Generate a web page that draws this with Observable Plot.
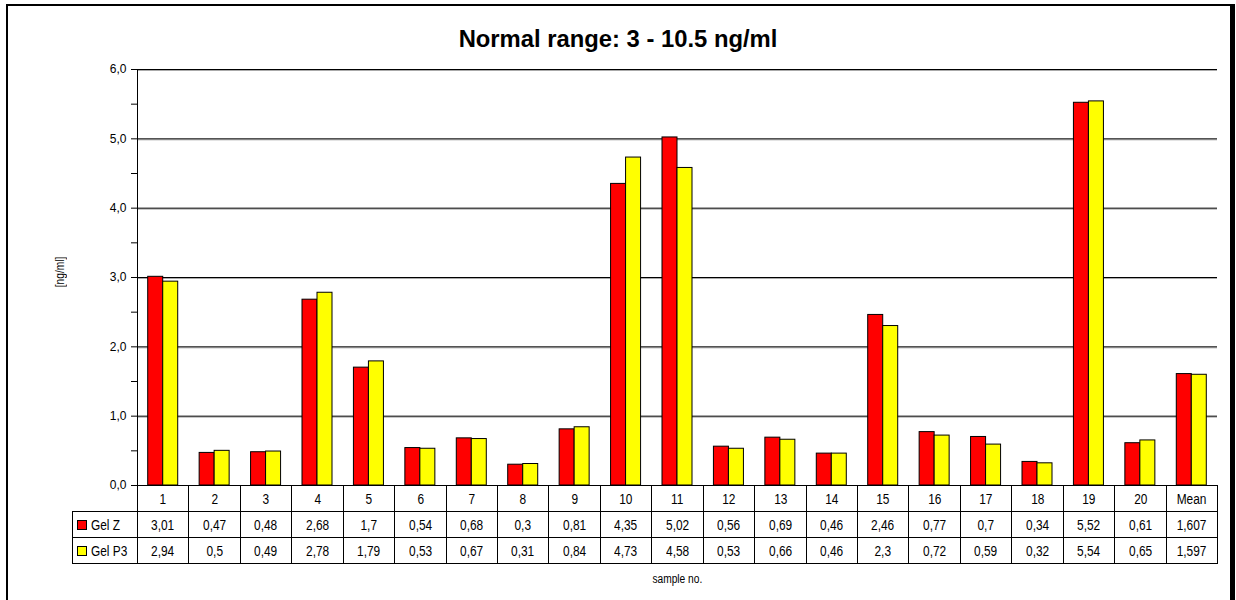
<!DOCTYPE html>
<html><head><meta charset="utf-8">
<script src="https://cdn.jsdelivr.net/npm/d3@7"></script>
<script src="https://cdn.jsdelivr.net/npm/@observablehq/plot@0.6"></script>
<style>
body{margin:0;background:#fff;}
#wrap{position:relative;width:1236px;height:600px;overflow:hidden;background:#fff;font-family:"Liberation Sans",Arial,sans-serif;color:#000;}
#border{position:absolute;left:6px;top:4px;width:1229px;height:640px;border:2px solid #000;border-right-width:5px;box-sizing:border-box;}
#title{position:absolute;left:6px;width:1224px;top:25px;text-align:center;font-family:"Liberation Sans",Arial,sans-serif;font-weight:bold;font-size:23.8px;}
#chart{position:absolute;left:0;top:0;}
.cell{position:absolute;box-sizing:border-box;border:1px solid #000;font-size:14px;display:flex;align-items:center;justify-content:center;white-space:nowrap;}
.cell .t{display:inline-block;transform:scaleX(0.85);}
.sw{display:inline-block;flex:none;width:10px;height:10px;box-sizing:border-box;border:1px solid #000;margin-right:4px;}
#xlabel{position:absolute;top:572px;left:137px;width:1080px;text-align:center;font-size:12px;}
#xlabel span, #ylabel span{display:inline-block;transform:scaleX(0.85);}
#ylabel{position:absolute;left:60px;top:272px;width:0;height:0;}
#ylabel div{position:absolute;left:-40px;top:-7px;width:80px;text-align:center;font-size:12px;transform:rotate(-90deg);}
</style></head>
<body>
<div id="wrap">
<div id="border"></div>
<div id="title">Normal range: 3 - 10.5 ng/ml</div>
<div id="chart"></div>
<div id="ylabel"><div><span>[ng/ml]</span></div></div>
<div id="xlabel"><span>sample no.</span></div>
</div>
<script>
const categories = ["1","2","3","4","5","6","7","8","9","10","11","12","13","14","15","16","17","18","19","20","Mean"];
const seriesNames = ["Gel Z", "Gel P3"];
const seriesColors = ["#ff0000", "#ffff00"];
const gelZ  = [3.01,0.47,0.48,2.68,1.7,0.54,0.68,0.3,0.81,4.35,5.02,0.56,0.69,0.46,2.46,0.77,0.7,0.34,5.52,0.61,1.607];
const gelP3 = [2.94,0.5,0.49,2.78,1.79,0.53,0.67,0.31,0.84,4.73,4.58,0.53,0.66,0.46,2.3,0.72,0.59,0.32,5.54,0.65,1.597];
const yTicks = [0,0.5,1,1.5,2,2.5,3,3.5,4,4.5,5,5.5,6];
const gridValues = [1,2,3,4,5,6];

const W = 1236, H = 600, mL = 137, mR = 19, mT = 69, mB = 115;
const bw = (W - mL - mR) / categories.length;
const barW = 15;

const rows = [];
categories.forEach((c, i) => {
  rows.push({cat: c, series: "Gel Z", value: gelZ[i]});
  rows.push({cat: c, series: "Gel P3", value: gelP3[i]});
});
const fmt = v => String(v).replace(".", ",");

const plot = Plot.plot({
  width: W, height: H,
  marginLeft: mL, marginRight: mR, marginTop: mT, marginBottom: mB,
  style: {fontFamily: '"Liberation Sans",Arial,sans-serif', fontSize: "12px", background: "transparent", color: "#000"},
  x: {domain: categories, padding: 0, round: false, axis: null},
  y: {domain: [0, 6], ticks: yTicks, tickFormat: d => Number.isInteger(d) ? d.toFixed(1).replace(".", ",") : "", tickSize: 6, tickPadding: 5, label: null},
  color: {domain: seriesNames, range: seriesColors},
  marks: [
    Plot.ruleY(gridValues, {stroke: "#aaa", strokeWidth: 1, dy: 1}),
    Plot.ruleY(gridValues, {stroke: "#000", strokeWidth: 1}),
    Plot.barY(rows.filter(d => d.series === "Gel Z"), {x: "cat", y: "value", fill: "series", stroke: "#000", strokeWidth: 1, insetLeft: bw/2 - barW, insetRight: bw/2}),
    Plot.barY(rows.filter(d => d.series === "Gel P3"), {x: "cat", y: "value", fill: "series", stroke: "#000", strokeWidth: 1, insetLeft: bw/2, insetRight: bw/2 - barW}),
    Plot.frame({anchor: "left", stroke: "#000"})
  ]
});
document.getElementById("chart").appendChild(plot);

// data table positioned from the plot's own x scale
const xs = plot.scale("x");
const wrap = document.getElementById("wrap");
const rowTop = [485, 511, 537], rowH = 26;
function cell(x0, x1, y, html) {
  const d = document.createElement("div");
  d.className = "cell";
  const l = Math.round(x0), r = Math.round(x1);
  d.style.left = l + "px"; d.style.top = y + "px";
  d.style.width = (r - l + 1) + "px"; d.style.height = (rowH + 1) + "px";
  d.innerHTML = html;
  wrap.appendChild(d);
  return d;
}
categories.forEach((c, i) => {
  const x0 = xs.apply(c), x1 = x0 + xs.bandwidth;
  cell(x0, x1, rowTop[0], `<span class="t">${c}</span>`);
  cell(x0, x1, rowTop[1], `<span class="t">${fmt(gelZ[i])}</span>`);
  cell(x0, x1, rowTop[2], `<span class="t">${fmt(gelP3[i])}</span>`);
});
const legX0 = 72, legX1 = xs.apply(categories[0]);
seriesNames.forEach((s, k) => {
  const d = cell(legX0, legX1, rowTop[k + 1], `<span class="sw" style="background:${seriesColors[k]}"></span><span class="t" style="transform-origin:left center">${s}</span>`);
  d.style.justifyContent = "flex-start";
  d.style.paddingLeft = "4px";
});
</script>
</body></html>
